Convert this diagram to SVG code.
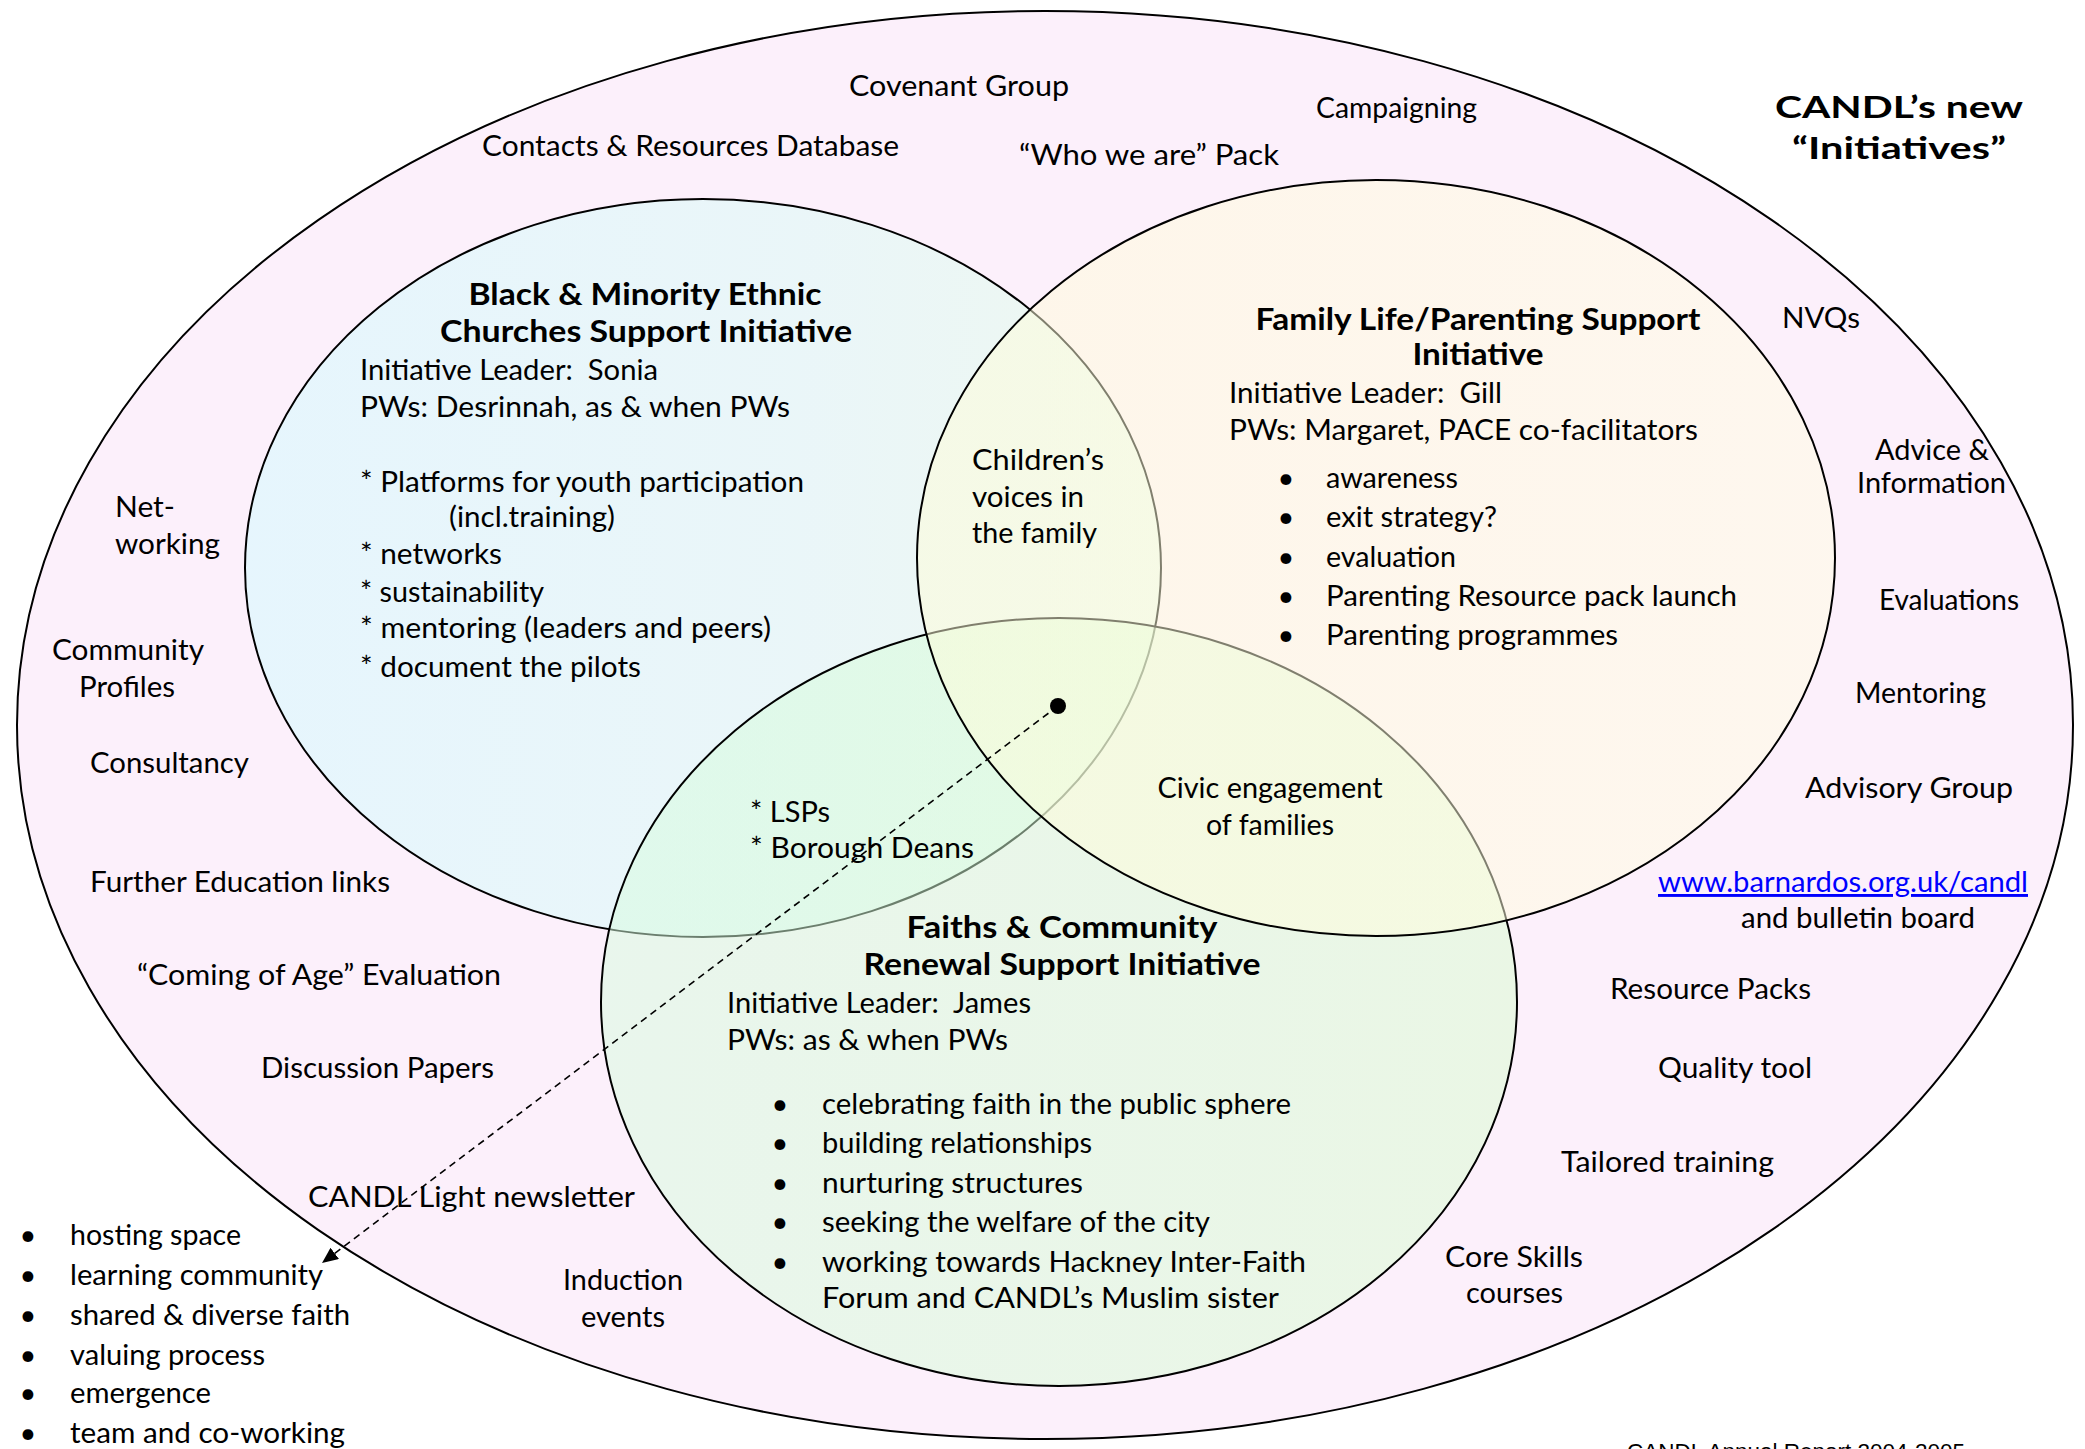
<svg xmlns="http://www.w3.org/2000/svg" width="2085" height="1449" viewBox="0 0 2085 1449">
<style>
.t{font-family:Lato,"Liberation Sans",sans-serif;font-size:29px;fill:#000}
.b{font-weight:bold;font-size:30px}
.c{text-anchor:middle}
.ring{stroke:#000;stroke-width:2}
.link{fill:none;stroke:#000;stroke-width:1.6;stroke-dasharray:7 5}
.foot{font-family:"Liberation Sans",Arial,sans-serif;font-size:22px;fill:#000}
</style>
<defs>
<linearGradient id="gBlue" x1="0" y1="0" x2="1" y2="0">
<stop offset="0" stop-color="#d0fbff"/>
<stop offset="0.6" stop-color="#d8fcf6"/>
<stop offset="1" stop-color="#e0ffe6"/>
</linearGradient>
<linearGradient id="gGreen" x1="0" y1="0" x2="1" y2="0">
<stop offset="0" stop-color="#d6fcde"/>
<stop offset="1" stop-color="#d8fdcf"/>
</linearGradient>
<linearGradient id="gYellow" x1="0" y1="0" x2="1" y2="0">
<stop offset="0" stop-color="#fffcd8"/>
<stop offset="1" stop-color="#fffee2"/>
</linearGradient>
<marker id="arr" markerUnits="userSpaceOnUse" markerWidth="18" markerHeight="14" refX="16" refY="7" orient="auto">
<path d="M0,0 L16,7 L0,14 z" fill="#000"/>
</marker>
</defs>
<rect x="0" y="0" width="2085" height="1449" fill="#fff"/>

<g id="candl-outer">
<ellipse class="ring" cx="1045" cy="725" rx="1028" ry="714" fill="#fcf0fb"/>
<text class="t" x="849" y="96" textLength="220" lengthAdjust="spacingAndGlyphs">Covenant Group</text>
<text class="t" x="482" y="156" textLength="417" lengthAdjust="spacingAndGlyphs">Contacts &amp; Resources Database</text>
<text class="t" x="1019" y="165" textLength="260" lengthAdjust="spacingAndGlyphs">“Who we are” Pack</text>
<text class="t" x="1316" y="118" textLength="161" lengthAdjust="spacingAndGlyphs">Campaigning</text>
<text class="t" x="1782" y="328" textLength="78" lengthAdjust="spacingAndGlyphs">NVQs</text>
<text class="t" x="1875" y="460" textLength="114" lengthAdjust="spacingAndGlyphs">Advice &amp;</text>
<text class="t" x="1857" y="493" textLength="149" lengthAdjust="spacingAndGlyphs">Information</text>
<text class="t" x="1879" y="610" textLength="140" lengthAdjust="spacingAndGlyphs">Evaluations</text>
<text class="t" x="1855" y="703" textLength="131" lengthAdjust="spacingAndGlyphs">Mentoring</text>
<text class="t" x="1805" y="798" textLength="208" lengthAdjust="spacingAndGlyphs">Advisory Group</text>
<text class="t" x="1658" y="892" textLength="370" lengthAdjust="spacingAndGlyphs" fill="#0000ff" style="fill:#0000ff" text-decoration="underline">www.barnardos.org.uk/candl</text>
<text class="t" x="1741" y="928" textLength="234" lengthAdjust="spacingAndGlyphs">and bulletin board</text>
<text class="t" x="1610" y="999" textLength="201" lengthAdjust="spacingAndGlyphs">Resource Packs</text>
<text class="t" x="1658" y="1078" textLength="154" lengthAdjust="spacingAndGlyphs">Quality tool</text>
<text class="t" x="1561" y="1172" textLength="213" lengthAdjust="spacingAndGlyphs">Tailored training</text>
<text class="t" x="1445" y="1267" textLength="138" lengthAdjust="spacingAndGlyphs">Core Skills</text>
<text class="t" x="1466" y="1303" textLength="97" lengthAdjust="spacingAndGlyphs">courses</text>
<text class="t" x="115" y="517" textLength="60" lengthAdjust="spacingAndGlyphs">Net-</text>
<text class="t" x="115" y="554" textLength="105" lengthAdjust="spacingAndGlyphs">working</text>
<text class="t" x="52" y="660" textLength="152" lengthAdjust="spacingAndGlyphs">Community</text>
<text class="t" x="79" y="697" textLength="96" lengthAdjust="spacingAndGlyphs">Profiles</text>
<text class="t" x="90" y="773" textLength="159" lengthAdjust="spacingAndGlyphs">Consultancy</text>
<text class="t" x="90" y="892" textLength="300" lengthAdjust="spacingAndGlyphs">Further Education links</text>
<text class="t" x="137" y="985" textLength="364" lengthAdjust="spacingAndGlyphs">“Coming of Age” Evaluation</text>
<text class="t" x="261" y="1078" textLength="233" lengthAdjust="spacingAndGlyphs">Discussion Papers</text>
<text class="t" x="308" y="1207" textLength="327" lengthAdjust="spacingAndGlyphs">CANDL Light newsletter</text>
<text class="t" x="563" y="1290" textLength="120" lengthAdjust="spacingAndGlyphs">Induction</text>
<text class="t" x="581" y="1327" textLength="84" lengthAdjust="spacingAndGlyphs">events</text>
</g>

<g id="title">
<text class="t b" x="1775" y="118" textLength="248" lengthAdjust="spacingAndGlyphs">CANDL’s new</text>
<text class="t b" x="1792" y="159" textLength="214" lengthAdjust="spacingAndGlyphs">“Initiatives”</text>
</g>

<g id="values-list">
<text class="t c" x="28" y="1245">•</text><text class="t" x="70" y="1245" textLength="171" lengthAdjust="spacingAndGlyphs">hosting space</text>
<text class="t c" x="28" y="1285">•</text><text class="t" x="70" y="1285" textLength="253" lengthAdjust="spacingAndGlyphs">learning community</text>
<text class="t c" x="28" y="1325">•</text><text class="t" x="70" y="1325" textLength="280" lengthAdjust="spacingAndGlyphs">shared &amp; diverse faith</text>
<text class="t c" x="28" y="1365">•</text><text class="t" x="70" y="1365" textLength="195" lengthAdjust="spacingAndGlyphs">valuing process</text>
<text class="t c" x="28" y="1403">•</text><text class="t" x="70" y="1403" textLength="141" lengthAdjust="spacingAndGlyphs">emergence</text>
<text class="t c" x="28" y="1443">•</text><text class="t" x="70" y="1443" textLength="275" lengthAdjust="spacingAndGlyphs">team and co-working</text>
</g>

<g id="bme-initiative">
<ellipse class="ring" cx="703" cy="568" rx="458" ry="369" fill="url(#gBlue)" fill-opacity="0.5"/>
<text class="t b c" x="645" y="305" textLength="353" lengthAdjust="spacingAndGlyphs">Black &amp; Minority Ethnic</text>
<text class="t b c" x="646" y="342" textLength="412" lengthAdjust="spacingAndGlyphs">Churches Support Initiative</text>
<text class="t" x="360" y="380" textLength="298" lengthAdjust="spacingAndGlyphs" xml:space="preserve">Initiative Leader:  Sonia</text>
<text class="t" x="360" y="417" textLength="430" lengthAdjust="spacingAndGlyphs">PWs: Desrinnah, as &amp; when PWs</text>
<text class="t" x="360" y="492" textLength="444" lengthAdjust="spacingAndGlyphs">* Platforms for youth participation</text>
<text class="t" x="449" y="527" textLength="166" lengthAdjust="spacingAndGlyphs">(incl.training)</text>
<text class="t" x="360" y="564" textLength="142" lengthAdjust="spacingAndGlyphs">* networks</text>
<text class="t" x="360" y="602" textLength="184" lengthAdjust="spacingAndGlyphs">* sustainability</text>
<text class="t" x="360" y="638" textLength="411" lengthAdjust="spacingAndGlyphs">* mentoring (leaders and peers)</text>
<text class="t" x="360" y="677" textLength="281" lengthAdjust="spacingAndGlyphs">* document the pilots</text>
</g>

<g id="faiths-initiative">
<ellipse class="ring" cx="1059" cy="1002" rx="458" ry="384" fill="url(#gGreen)" fill-opacity="0.5"/>
<text class="t b c" x="1062" y="938" textLength="311" lengthAdjust="spacingAndGlyphs">Faiths &amp; Community</text>
<text class="t b c" x="1062" y="975" textLength="397" lengthAdjust="spacingAndGlyphs">Renewal Support Initiative</text>
<text class="t" x="727" y="1013" textLength="304" lengthAdjust="spacingAndGlyphs" xml:space="preserve">Initiative Leader:  James</text>
<text class="t" x="727" y="1050" textLength="281" lengthAdjust="spacingAndGlyphs">PWs: as &amp; when PWs</text>
<text class="t c" x="780" y="1114">•</text><text class="t" x="822" y="1114" textLength="469" lengthAdjust="spacingAndGlyphs">celebrating faith in the public sphere</text>
<text class="t c" x="780" y="1153">•</text><text class="t" x="822" y="1153" textLength="270" lengthAdjust="spacingAndGlyphs">building relationships</text>
<text class="t c" x="780" y="1193">•</text><text class="t" x="822" y="1193" textLength="261" lengthAdjust="spacingAndGlyphs">nurturing structures</text>
<text class="t c" x="780" y="1232">•</text><text class="t" x="822" y="1232" textLength="388" lengthAdjust="spacingAndGlyphs">seeking the welfare of the city</text>
<text class="t c" x="780" y="1272">•</text><text class="t" x="822" y="1272" textLength="484" lengthAdjust="spacingAndGlyphs">working towards Hackney Inter-Faith</text>
<text class="t" x="822" y="1308" textLength="457" lengthAdjust="spacingAndGlyphs">Forum and CANDL’s Muslim sister</text>
</g>

<g id="family-initiative">
<ellipse class="ring" cx="1376" cy="558" rx="459" ry="378" fill="url(#gYellow)" fill-opacity="0.5"/>
<text class="t b c" x="1478" y="330" textLength="445" lengthAdjust="spacingAndGlyphs">Family Life/Parenting Support</text>
<text class="t b c" x="1478" y="365" textLength="131" lengthAdjust="spacingAndGlyphs">Initiative</text>
<text class="t" x="1229" y="403" textLength="273" lengthAdjust="spacingAndGlyphs" xml:space="preserve">Initiative Leader:  Gill</text>
<text class="t" x="1229" y="440" textLength="469" lengthAdjust="spacingAndGlyphs">PWs: Margaret, PACE co-facilitators</text>
<text class="t c" x="1286" y="488">•</text><text class="t" x="1326" y="488" textLength="132" lengthAdjust="spacingAndGlyphs">awareness</text>
<text class="t c" x="1286" y="527">•</text><text class="t" x="1326" y="527" textLength="171" lengthAdjust="spacingAndGlyphs">exit strategy?</text>
<text class="t c" x="1286" y="567">•</text><text class="t" x="1326" y="567" textLength="130" lengthAdjust="spacingAndGlyphs">evaluation</text>
<text class="t c" x="1286" y="606">•</text><text class="t" x="1326" y="606" textLength="411" lengthAdjust="spacingAndGlyphs">Parenting Resource pack launch</text>
<text class="t c" x="1286" y="645">•</text><text class="t" x="1326" y="645" textLength="292" lengthAdjust="spacingAndGlyphs">Parenting programmes</text>
</g>

<g id="childrens-voices">
<text class="t" x="972" y="470" textLength="132" lengthAdjust="spacingAndGlyphs">Children’s</text>
<text class="t" x="972" y="507" textLength="112" lengthAdjust="spacingAndGlyphs">voices in</text>
<text class="t" x="972" y="543" textLength="125" lengthAdjust="spacingAndGlyphs">the family</text>
</g>

<g id="lsps-deans">
<text class="t" x="750" y="822" textLength="80" lengthAdjust="spacingAndGlyphs">* LSPs</text>
<text class="t" x="750" y="858" textLength="224" lengthAdjust="spacingAndGlyphs">* Borough Deans</text>
</g>

<g id="civic-engagement">
<text class="t c" x="1270" y="798" textLength="225" lengthAdjust="spacingAndGlyphs">Civic engagement</text>
<text class="t c" x="1270" y="835" textLength="128" lengthAdjust="spacingAndGlyphs">of families</text>
</g>

<g id="connectors">
<line class="link" x1="1058" y1="706" x2="322" y2="1263" marker-end="url(#arr)"/>
<circle cx="1058" cy="706" r="8" fill="#000"/>
</g>

<text class="foot" x="1627" y="1459" textLength="338" lengthAdjust="spacingAndGlyphs">CANDL Annual Report 2004-2005</text>
</svg>
